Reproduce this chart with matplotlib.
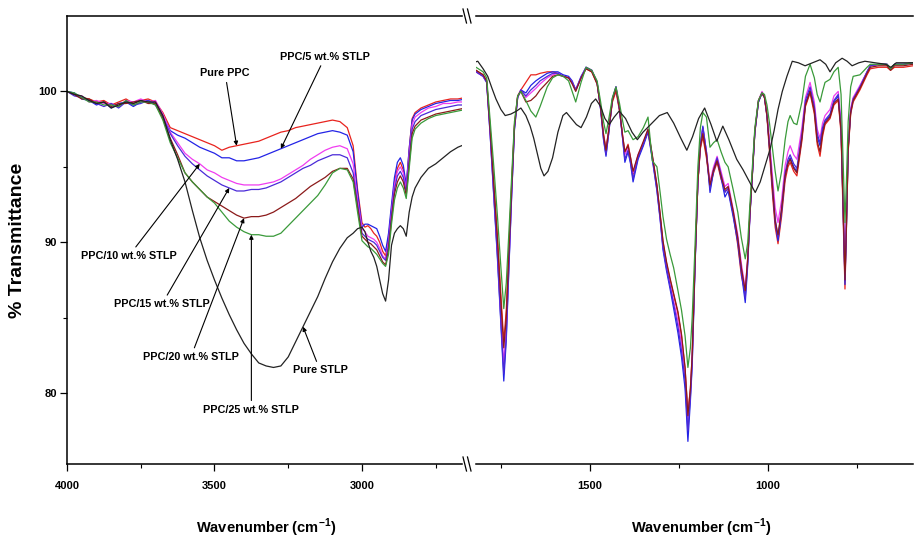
"""FTIR spectra of PPC / STLP composites with a broken wavenumber axis."""

import matplotlib
matplotlib.use("Agg")
import matplotlib.pyplot as plt
from matplotlib.lines import Line2D
from matplotlib.ticker import FixedLocator

NARROW = ["Liberation Sans Narrow", "Liberation Sans", "DejaVu Sans"]
plt.rcParams["font.family"] = NARROW
plt.rcParams["font.weight"] = "bold"
plt.rcParams["mathtext.fontset"] = "custom"
plt.rcParams["mathtext.rm"] = "Liberation Sans:bold"
plt.rcParams["mathtext.bf"] = "Liberation Sans:bold"

SERIES = ["Pure PPC", "PPC/5 wt.% STLP", "PPC/10 wt.% STLP", "PPC/15 wt.% STLP",
          "PPC/20 wt.% STLP", "PPC/25 wt.% STLP", "Pure STLP"]
COLORS = ["#e8231e", "#2323e6", "#f03cf0", "#4a2ad8", "#8b1a1a", "#3a9a3a", "#222222"]

# ---- high wavenumber part (4000 - 2650 cm-1) ----
LEFT_WN = [4000, 3975, 3950, 3925, 3900, 3875, 3850, 3825, 3800, 3775, 3750, 3725, 3700, 3675, 3650,
           3625, 3600, 3575, 3550, 3525, 3500, 3475, 3450, 3425, 3400, 3375, 3350, 3325, 3300, 3275,
           3250, 3225, 3200, 3175, 3150, 3125, 3100, 3075,
           3050, 3030, 3015,
           3000, 2990, 2980, 2970, 2960, 2950, 2940, 2930, 2920, 2910, 2900, 2890, 2880, 2870, 2860,
           2850, 2840, 2830, 2820,
           2800, 2775, 2750, 2725, 2700, 2675, 2650]

LEFT_PURE_PPC = [100.0, 99.8, 99.6, 99.5, 99.3, 99.4, 99.1, 99.3, 99.5, 99.2, 99.4, 99.5, 99.3, 98.6, 97.6,
                 97.4, 97.2, 97.0, 96.8, 96.6, 96.4, 96.1, 96.3, 96.4, 96.5, 96.6, 96.7, 96.9, 97.1, 97.3,
                 97.4, 97.6, 97.7, 97.8, 97.9, 98.0, 98.1, 98.0,
                 97.6, 96.4, 93.5,
                 91.3, 91.0, 91.1, 90.9, 90.6, 90.4, 90.0, 89.4, 89.1, 90.3, 92.2, 94.0, 94.9, 95.3, 94.8,
                 93.6, 96.2, 98.2, 98.6,
                 98.9, 99.1, 99.3, 99.4, 99.5, 99.5, 99.6]
LEFT_PPC5 = [100.0, 99.9, 99.5, 99.4, 99.1, 99.3, 98.9, 99.2, 99.3, 99.0, 99.3, 99.4, 99.2, 98.4, 97.4,
             97.1, 96.9, 96.6, 96.3, 96.1, 95.9, 95.6, 95.6, 95.4, 95.4, 95.5, 95.6, 95.8, 96.0, 96.2,
             96.4, 96.6, 96.8, 97.0, 97.2, 97.3, 97.4, 97.3,
             97.1, 96.0, 93.3,
             91.0, 91.2, 91.2, 91.1, 91.0, 90.9, 90.4, 89.8, 89.4, 90.6, 92.5, 94.3, 95.3, 95.6, 95.1,
             93.8, 96.2, 98.1, 98.5,
             98.8, 99.0, 99.2, 99.3, 99.4, 99.4, 99.5]
LEFT_PPC10 = [100.0, 99.8, 99.7, 99.3, 99.4, 99.2, 99.2, 99.0, 99.4, 99.3, 99.5, 99.3, 99.4, 98.5, 97.3,
              96.6, 95.9, 95.5, 95.2, 94.8, 94.6, 94.3, 94.1, 93.9, 93.8, 93.8, 93.8, 93.9, 94.0, 94.2,
              94.5, 94.8, 95.1, 95.5, 95.8, 96.1, 96.3, 96.4,
              96.2, 95.2, 92.8,
              90.9, 90.7, 90.4, 90.3, 90.2, 90.0, 89.6, 89.1, 88.9, 90.0, 92.0, 93.8, 94.7, 95.0, 94.6,
              93.5, 95.8, 97.8, 98.3,
              98.6, 98.9, 99.0, 99.2, 99.2, 99.3, 99.3]
LEFT_PPC15 = [100.0, 99.7, 99.6, 99.4, 99.2, 99.0, 99.2, 98.9, 99.3, 99.1, 99.2, 99.4, 99.1, 98.3, 97.2,
              96.4, 95.7, 95.2, 94.8, 94.4, 94.1, 93.8, 93.6, 93.4, 93.4, 93.5, 93.5, 93.6, 93.8, 94.0,
              94.3, 94.6, 94.9, 95.1, 95.4, 95.6, 95.8, 95.8,
              95.6, 94.6, 92.5,
              90.6, 90.4, 90.2, 90.1, 90.0, 89.8, 89.4, 89.0, 88.8, 89.8, 91.8, 93.5, 94.4, 94.7, 94.3,
              93.3, 95.5, 97.5, 98.0,
              98.4, 98.6, 98.8, 98.9, 99.0, 99.1, 99.1]
LEFT_PPC20 = [100.0, 99.8, 99.5, 99.5, 99.2, 99.3, 99.0, 99.2, 99.2, 99.3, 99.4, 99.2, 99.2, 98.2, 96.9,
              95.8, 94.6, 94.0, 93.5, 93.0, 92.7, 92.4, 92.1, 91.8, 91.6, 91.7, 91.7, 91.8, 92.0, 92.3,
              92.6, 92.9, 93.3, 93.7, 94.0, 94.3, 94.7, 94.9,
              94.9, 94.2, 92.3,
              90.4, 90.2, 90.0, 89.9, 89.7, 89.5, 89.1, 88.7, 88.5, 89.5, 91.5, 93.2, 94.0, 94.4, 94.0,
              93.1, 95.2, 97.2, 97.7,
              98.1, 98.3, 98.5, 98.6, 98.7, 98.8, 98.9]
LEFT_PPC25 = [100.0, 99.9, 99.6, 99.3, 99.3, 99.1, 99.1, 99.0, 99.4, 99.1, 99.3, 99.3, 99.1, 98.1, 96.6,
              95.6, 94.6, 94.0, 93.5, 93.0, 92.6, 92.0, 91.4, 91.0, 90.7, 90.5, 90.5, 90.4, 90.4, 90.6,
              91.1, 91.6, 92.1, 92.6, 93.1, 93.8, 94.6, 94.9,
              94.8, 94.0, 92.0,
              90.1, 89.9, 89.7, 89.6, 89.4, 89.2, 88.9, 88.6, 88.4, 89.2, 91.2, 92.8, 93.6, 94.0, 93.6,
              92.9, 94.9, 96.9, 97.5,
              97.9, 98.2, 98.4, 98.5, 98.6, 98.7, 98.8]
LEFT_STLP = [100.0, 99.8, 99.7, 99.4, 99.2, 99.3, 98.9, 99.1, 99.3, 99.2, 99.4, 99.3, 99.3, 98.4, 96.8,
             95.5, 94.0, 92.1, 90.3, 88.8, 87.5, 86.3, 85.2, 84.2, 83.3, 82.6, 82.0, 81.8, 81.7, 81.8,
             82.4, 83.4, 84.4, 85.4, 86.4, 87.6, 88.7, 89.6,
             90.3, 90.6, 90.9,
             91.0, 90.7, 90.0, 89.4, 89.0, 88.4, 87.5, 86.6, 86.1, 87.5, 89.8, 90.6, 90.9, 91.1, 90.9,
             90.4, 92.0, 93.0, 93.6,
             94.3, 94.9, 95.2, 95.6, 96.0, 96.3, 96.5]

# ---- fingerprint part (1850 - 593 cm-1), PPC containing samples ----
RIGHT_WN = [1848, 1820, 1800, 1790, 1780, 1770, 1760, 1750, 1742, 1735,
            1728, 1720, 1712, 1703, 1694, 1680, 1666, 1652, 1640, 1620,
            1605, 1590, 1575, 1560, 1550, 1540, 1525, 1511, 1495, 1480,
            1470, 1462, 1455, 1447, 1437, 1427, 1417, 1408, 1402, 1393,
            1386, 1379, 1365, 1350, 1337, 1325, 1312, 1303, 1295, 1285,
            1275, 1265, 1253, 1243, 1233, 1225, 1218, 1213, 1205, 1197,
            1190, 1183, 1173, 1163, 1153, 1143, 1132, 1121, 1112, 1098,
            1085, 1075, 1064, 1057, 1051, 1044, 1037, 1027, 1017, 1010,
            1003, 996, 989, 980, 972, 962, 952, 944, 938, 928,
            919, 905, 895, 882, 870, 862, 854, 847, 840, 826,
            815, 803, 795, 789, 784, 780, 775, 768, 761, 742,
            722, 713, 690, 666, 656, 645, 620, 593]

RIGHT_PURE_PPC = [101.5, 101.4, 101.1, 100.7, 97.5, 94.0, 90.5, 86.5, 83.4, 85.5,
                  89.5, 93.8, 97.8, 99.7, 100.1, 100.6, 101.1, 101.1, 101.2, 101.3,
                  101.3, 101.2, 101.0, 100.9, 100.6, 100.1, 100.9, 101.5, 101.3, 100.5,
                  98.9, 97.2, 96.2, 97.5, 99.3, 100.0, 98.7, 97.0, 96.0, 96.5,
                  95.6, 94.5, 95.7, 96.6, 97.4, 95.7, 93.7, 91.8, 90.0, 88.6,
                  87.5, 86.5, 85.3, 83.8, 81.6, 78.7, 80.3, 82.5, 88.7, 94.0,
                  96.2, 97.0, 95.6, 93.7, 94.6, 95.3, 94.2, 93.4, 93.5, 91.9,
                  89.8, 87.8, 86.6, 88.8, 91.8, 94.5, 97.3, 99.3, 99.9, 99.6,
                  98.3, 96.0, 93.6, 91.0, 89.9, 91.7, 94.1, 95.0, 95.3, 94.7,
                  94.4, 96.7, 99.0, 99.9, 98.5, 96.5, 95.7, 97.0, 97.8, 98.2,
                  99.1, 99.4, 97.2, 91.5, 86.9, 90.8, 96.0, 98.5, 99.3, 100.1,
                  101.1, 101.5, 101.6, 101.6, 101.4, 101.6, 101.6, 101.7]
RIGHT_PPC5 = [101.4, 101.3, 101.0, 100.6, 97.0, 93.0, 89.0, 84.5, 80.8, 83.5,
              88.0, 93.0, 97.5, 99.6, 100.1, 99.9, 100.4, 100.7, 100.9, 101.2,
              101.3, 101.3, 101.1, 101.0, 100.7, 100.1, 101.0, 101.6, 101.4, 100.6,
              98.8, 96.8, 95.7, 97.3, 99.5, 100.3, 98.8, 96.8, 95.3, 96.0,
              95.2, 94.0, 95.5, 96.4, 97.3, 95.5, 93.4, 91.5, 89.5, 88.1,
              86.9, 85.6, 84.0, 82.4, 80.3, 76.8, 79.5, 81.8, 88.4, 94.0,
              96.5, 97.7, 96.0, 93.3, 94.7, 95.5, 94.3, 93.0, 93.4, 91.7,
              90.0, 88.0, 86.0, 88.5, 91.7, 94.5, 97.3, 99.3, 99.9, 99.6,
              98.4, 96.3, 94.0, 91.3, 90.1, 92.0, 94.4, 95.3, 95.6, 95.0,
              94.7, 97.0, 99.2, 100.1, 98.8, 97.0, 96.4, 97.4, 98.0, 98.4,
              99.3, 99.7, 97.5, 92.0, 87.2, 91.0, 96.2, 98.7, 99.5, 100.3,
              101.3, 101.7, 101.8, 101.8, 101.5, 101.8, 101.8, 101.9]
RIGHT_PPC10 = [101.5, 101.3, 101.0, 100.6, 97.2, 93.3, 89.5, 85.0, 82.0, 84.2,
               88.5, 93.2, 97.6, 99.6, 100.1, 99.6, 99.9, 100.2, 100.5, 100.9,
               101.1, 101.2, 101.0, 100.9, 100.6, 100.1, 100.9, 101.6, 101.4, 100.6,
               98.9, 97.0, 96.0, 97.4, 99.5, 100.3, 98.8, 96.9, 95.8, 96.3,
               95.5, 94.6, 95.8, 96.6, 97.5, 95.7, 93.7, 91.7, 89.8, 88.4,
               87.2, 86.1, 84.8, 83.3, 81.2, 78.3, 80.0, 82.3, 88.6, 94.0,
               96.4, 97.5, 96.0, 94.0, 95.0, 95.7, 94.7, 93.7, 93.9, 92.2,
               90.5, 88.6, 86.9, 89.0, 91.9, 94.6, 97.4, 99.4, 100.0, 99.7,
               98.6, 96.8, 94.8, 92.3, 91.3, 92.8, 95.1, 96.0, 96.4, 95.8,
               95.5, 97.6, 99.6, 100.6, 99.3, 97.5, 96.9, 97.9, 98.4, 98.8,
               99.7, 100.0, 98.0, 92.8, 88.3, 91.8, 96.5, 98.9, 99.6, 100.4,
               101.3, 101.7, 101.8, 101.8, 101.5, 101.8, 101.8, 101.9]
RIGHT_PPC15 = [101.4, 101.3, 101.0, 100.6, 97.1, 93.1, 89.2, 84.7, 81.3, 83.8,
               88.2, 93.1, 97.5, 99.6, 100.1, 99.7, 100.1, 100.4, 100.7, 101.0,
               101.2, 101.2, 101.0, 100.9, 100.6, 100.1, 100.9, 101.6, 101.4, 100.6,
               98.8, 96.9, 95.8, 97.3, 99.5, 100.3, 98.8, 96.8, 95.5, 96.1,
               95.3, 94.2, 95.6, 96.5, 97.4, 95.6, 93.5, 91.6, 89.7, 88.3,
               87.1, 85.9, 84.4, 82.8, 80.8, 77.5, 79.8, 82.0, 88.5, 94.0,
               96.5, 97.6, 96.0, 93.5, 94.8, 95.6, 94.5, 93.3, 93.6, 91.9,
               90.2, 88.2, 86.3, 88.7, 91.8, 94.5, 97.3, 99.3, 99.9, 99.6,
               98.4, 96.4, 94.2, 91.6, 90.3, 92.2, 94.6, 95.5, 95.8, 95.2,
               94.9, 97.2, 99.4, 100.3, 99.0, 97.2, 96.6, 97.6, 98.1, 98.5,
               99.4, 99.8, 97.6, 92.2, 87.5, 91.2, 96.3, 98.7, 99.5, 100.3,
               101.3, 101.7, 101.8, 101.8, 101.5, 101.8, 101.8, 101.9]
RIGHT_PPC20 = [101.5, 101.4, 101.1, 100.7, 97.4, 93.8, 90.2, 86.0, 83.0, 85.0,
               89.2, 93.6, 97.7, 99.7, 100.0, 99.3, 99.4, 99.7, 100.1, 100.6,
               101.0, 101.1, 101.0, 100.9, 100.5, 100.0, 100.9, 101.5, 101.3, 100.5,
               98.9, 97.1, 96.1, 97.5, 99.4, 100.2, 98.8, 97.0, 96.0, 96.4,
               95.6, 94.7, 95.8, 96.7, 97.5, 95.8, 93.8, 91.9, 90.1, 88.7,
               87.6, 86.6, 85.4, 83.9, 81.7, 78.5, 80.3, 82.5, 88.7, 94.0,
               96.3, 97.2, 95.8, 93.8, 94.8, 95.4, 94.4, 93.5, 93.7, 92.1,
               90.3, 88.3, 86.8, 89.0, 91.9, 94.6, 97.4, 99.4, 99.9, 99.6,
               98.4, 96.3, 94.1, 91.4, 90.5, 92.2, 94.4, 95.2, 95.5, 94.9,
               94.6, 96.9, 99.1, 100.0, 98.7, 96.7, 96.0, 97.2, 97.9, 98.3,
               99.2, 99.5, 97.4, 92.2, 87.5, 91.0, 96.1, 98.6, 99.4, 100.2,
               101.2, 101.6, 101.7, 101.7, 101.4, 101.7, 101.7, 101.8]
RIGHT_PPC25 = [101.7, 101.6, 101.3, 100.9, 98.0, 95.0, 91.8, 88.3, 85.6, 87.3,
               90.5, 94.3, 98.0, 99.7, 100.0, 99.4, 98.7, 98.3, 99.0, 100.3,
               100.9, 101.1, 101.0, 100.7, 100.0, 99.3, 100.6, 101.6, 101.4, 100.7,
               99.3, 98.0, 97.2, 98.2, 99.6, 100.3, 99.2, 98.0, 97.3, 97.4,
               97.1, 96.8, 97.0, 97.6, 98.3, 95.4, 95.0, 93.3, 91.7, 90.2,
               89.2, 88.3, 86.8, 85.5, 83.8, 81.7, 83.0, 85.0, 89.8, 95.0,
               97.6, 98.6, 98.3, 96.3, 96.6, 96.8, 96.0, 95.3, 95.0, 93.5,
               92.0, 90.3, 88.9, 90.0, 92.5, 95.0, 97.6, 99.4, 99.9, 99.8,
               99.1, 97.9, 96.5, 94.7, 93.4, 94.7, 96.8, 98.0, 98.4, 97.9,
               97.8, 99.3, 101.0, 101.8, 100.9, 99.8, 99.3, 100.0, 100.6, 100.8,
               101.3, 101.6, 99.8, 95.2, 91.3, 94.0, 98.0, 100.3, 101.0, 101.1,
               101.6, 101.8, 101.8, 101.8, 101.5, 101.8, 101.8, 101.9]

# ---- fingerprint part, pure STLP ----
RIGHT_STLP_WN = [1848, 1830, 1815, 1800, 1787, 1775, 1764, 1750, 1738, 1722,
                 1706, 1694, 1680, 1668, 1658, 1648, 1638, 1629, 1618, 1605,
                 1590, 1576, 1566, 1552, 1538, 1525, 1510, 1496, 1484, 1470,
                 1458, 1446, 1432, 1418, 1400, 1382, 1367, 1351, 1330, 1305,
                 1283, 1265, 1245, 1228, 1212, 1195, 1178, 1160, 1144, 1127,
                 1110, 1088, 1070, 1052, 1036, 1022, 1008, 994, 983, 972,
                 960, 947, 932, 915, 896, 875, 854, 838, 826, 810,
                 792, 778, 764, 745, 728, 700, 670, 655, 640, 593]
RIGHT_STLP = [101.9, 101.9, 102.0, 101.5, 101.0, 100.2, 99.5, 98.8, 98.4, 98.5,
              98.7, 98.9, 98.4, 97.7, 96.9, 95.9, 94.9, 94.4, 94.7, 95.6,
              97.3, 98.4, 98.6, 98.2, 97.8, 97.6, 98.3, 99.2, 99.5, 99.0,
              98.2, 97.8, 98.3, 98.7, 98.2, 97.3, 96.8, 97.3, 97.8, 98.4,
              98.6, 97.9, 96.9, 96.1, 97.0, 98.2, 98.9, 97.8, 96.7, 97.7,
              96.8, 95.5, 94.8, 94.0, 93.3, 94.0, 95.1, 96.2, 97.4, 98.8,
              100.0, 101.0, 102.0, 101.9, 101.7, 101.9, 102.1, 101.8, 101.3, 101.9,
              102.2, 102.0, 101.7, 101.9, 102.0, 101.9, 101.8, 101.6, 101.9, 101.9]

LEFT_SERIES = [LEFT_PURE_PPC, LEFT_PPC5, LEFT_PPC10, LEFT_PPC15, LEFT_PPC20, LEFT_PPC25, LEFT_STLP]
RIGHT_SERIES = [RIGHT_PURE_PPC, RIGHT_PPC5, RIGHT_PPC10, RIGHT_PPC15, RIGHT_PPC20, RIGHT_PPC25]

# label text position (wavenumber, %T) and the left-panel wavenumber the arrow points at
LABEL_POS = [(3464, 101.2), (3125, 102.3), (3790, 89.1), (3678, 85.9),
             (3580, 82.4), (3375, 78.9), (3142, 81.5)]
ARROW_WN = [3425, 3275, 3550, 3450, 3400, 3375, 3200]

W, H = 915, 545
fig = plt.figure(figsize=(W / 100, H / 100), dpi=100)
bottom, height = 1 - 464 / H, (464 - 16) / H
ax_l = fig.add_axes([67 / W, bottom, (462 - 67) / W, height])
ax_r = fig.add_axes([476 / W, bottom, (913 - 476) / W, height], sharey=ax_l)

for values, color in zip(LEFT_SERIES, COLORS):
    ax_l.plot(LEFT_WN, values, color=color, lw=0.9)
for values, color in zip(RIGHT_SERIES, COLORS):
    ax_r.plot(RIGHT_WN, values, color=color, lw=0.9)
ax_r.plot(RIGHT_STLP_WN, RIGHT_STLP, color=COLORS[-1], lw=0.9)

ax_l.set_xlim(4000, 2661)
ax_r.set_xlim(1820, 593)
ax_l.set_ylim(75.3, 105.0)

ax_l.xaxis.set_major_locator(FixedLocator([4000, 3500, 3000]))
ax_l.xaxis.set_minor_locator(FixedLocator([3750, 3250, 2750]))
ax_r.xaxis.set_major_locator(FixedLocator([1500, 1000]))
ax_r.xaxis.set_minor_locator(FixedLocator([1750, 1250, 750]))
ax_l.yaxis.set_major_locator(FixedLocator([80, 90, 100]))
ax_l.yaxis.set_minor_locator(FixedLocator([85, 95]))

for ax in (ax_l, ax_r):
    ax.spines["right"].set_visible(False)
    for side in ("top", "bottom", "left"):
        ax.spines[side].set_linewidth(1.1)
    ax.tick_params(which="major", direction="out", length=5, width=0.9, labelsize=8, pad=7)
    ax.tick_params(which="minor", direction="out", length=3, width=0.8)
    ax.tick_params(axis="x", top=False)
    ax.tick_params(axis="y", which="both", right=False)
    for lab in ax.get_xticklabels() + ax.get_yticklabels():
        lab.set_fontweight("bold")
ax_l.tick_params(axis="y", pad=2)
ax_r.spines["left"].set_visible(False)
ax_r.tick_params(axis="y", which="both", left=False, labelleft=False)

for text, values, (tx, ty), wn in zip(SERIES, LEFT_SERIES, LABEL_POS, ARROW_WN):
    i = LEFT_WN.index(wn)
    ax_l.annotate(text, xy=(wn, values[i]), xytext=(tx, ty), ha="center", va="center",
                  fontsize=7.8, fontweight="bold",
                  arrowprops=dict(arrowstyle="-|>", color="black", lw=0.8,
                                  mutation_scale=6, shrinkA=1, shrinkB=0))

# axis titles
fig.text(18 / W, 1 - 240 / H, "% Transmittance", rotation=90, ha="center", va="center",
         fontsize=14, fontweight="bold", family=["Liberation Sans", "DejaVu Sans"])
for cx in (266, 701):
    fig.text(cx / W, 1 - 528 / H, r"Wavenumber (cm$^{-1}$)", ha="center", va="center",
             fontsize=10.5, fontweight="bold")

# break marks on the top and bottom spines
for y in (16, 464):
    for x0 in (463, 467.5):
        fig.add_artist(Line2D([x0 / W, (x0 + 3.5) / W], [1 - (y - 7) / H, 1 - (y + 7) / H],
                              transform=fig.transFigure, color="black", lw=0.9))

fig.savefig("out.png", dpi=100)
